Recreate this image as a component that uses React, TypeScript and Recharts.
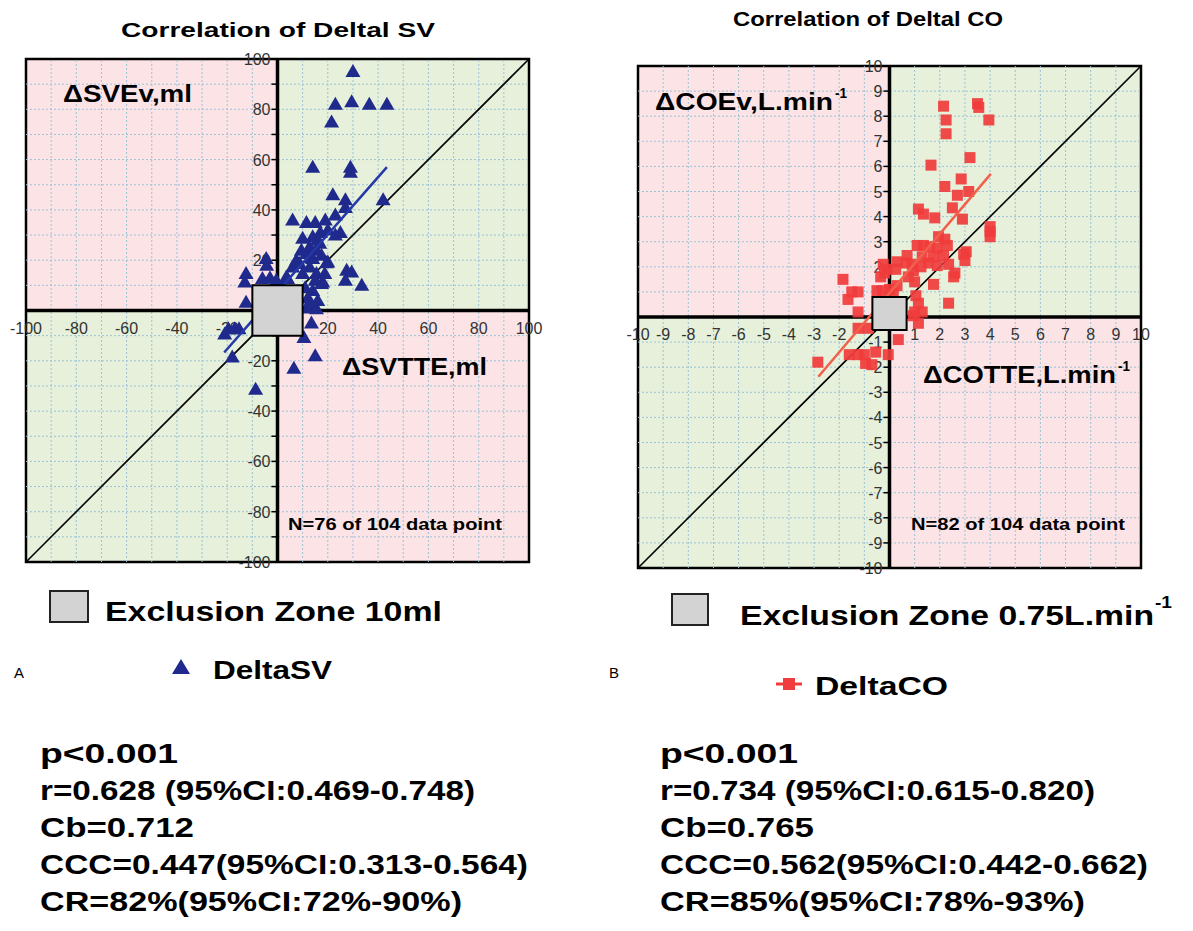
import React from 'react';
import { ScatterChart, Scatter, XAxis, YAxis, ReferenceArea, ReferenceLine } from 'recharts';

// panel A: delta SV (ml), TTE on x, Ev on y
const svTTE = [30, 23, 29.5, 36.5, 43.5, 21.5, 14, 29, 29, 22, 27, 42, 27, 23, 6, 11.5, 15, 19, 25, 10,
  14, 12.8, 16.8, 11.5, 15.5, 14, 17.5, 20, 12.8, 15.5, 18.8, 14, 17.5, 13.5, 15.5, 11.5, 6, 8.8, 3.5, -0.5,
  4, -4.5, -4.3, -12.5, -13, -12.5, -6, 10, 11, 15, 18, 27.5, 27, 29.5, 33.5, 13.5, 10.5, 15, 6.5, -8.7,
  -21, -17, -15.3, -18, -19.5, 9.5, 7.5, 19.5, 17, 16, 13, 20, 23, 12, 16, -3];
const svEv = [95, 82, 83, 82, 82, 75, 57, 57, 55, 46, 44, 44, 41, 38, 36, 35, 35, 36, 31, 28.7,
  29.3, 25.3, 26.7, 22.7, 24, 20.7, 22, 19.3, 17.3, 14.7, 14.7, 8, 10.7, 2.7, 0.7, 1, 17.3, 18.7, 13.3, 12,
  12.7, 20.7, 18, 14.7, 11.3, 3.3, 12.7, 14.7, 9, 12, 11.3, 16, 12, 15.3, 10, -5, -10.7, -18, -23, -31.3,
  -9.3, -7.3, -7.3, -18.5, -7.3, 24, 20, 19, 31, 28, 21, 32, 30, 5, 4, 13];
const svGrid = [-100, -90, -80, -70, -60, -50, -40, -30, -20, -10, 0, 10, 20, 30, 40, 50, 60, 70, 80, 90, 100];
const svXLabels = [-100, -80, -60, -40, -20, 20, 40, 60, 80, 100];
const svYLabels = [-100, -80, -60, -40, -20, 20, 40, 60, 80, 100];
const svFitX = [-21.2, 43.5];
const svFitY = [-16.7, 57];
const svZoneX = [-10, 10];
const svZoneY = [-10, 10];

// panel B: delta CO (L/min)
const coTTE = [2.15, 2.25, 2.25, 3.5, 3.55, 3.95, 3.2, 1.65, 2.85, 2.2, 2.7, 3.15, 1.15, 1.35, 1.8, 2.5, 2.9, 4.0, 4.0, 4.0,
  1.95, 2.2, 3.05, 1.1, 1.35, 1.6, 1.9, 2.3, 1.3, 1.75, 2.15, 2.95, 3.0, 1.55, 1.9, 2.35, 2.6, 2.55, 0.7, 0.65,
  0.3, 0.25, 0.95, 0.9, 1.25, 0.75, -0.25, -0.1, -0.2, -0.35, -1.85, -1.5, -1.25, -1.65, -0.5, -0.25, 0.0, 0.3, 0.15, 1.0,
  1.75, 2.35, -1.25, 1.15, 1.0, 1.3, 0.95, 1.15, -1.25, -0.85, 0.35, -1.6, -1.25, -1.0, -0.55, -0.05, -0.95, -0.7, -2.85, 1.05];
const coEv = [8.4, 7.85, 7.3, 8.5, 8.35, 7.85, 6.35, 6.05, 5.5, 5.2, 4.85, 5.0, 4.3, 4.1, 3.95, 4.35, 3.9, 3.6, 3.4, 3.2,
  3.2, 3.1, 2.6, 2.85, 2.85, 2.8, 2.75, 2.85, 2.4, 2.4, 2.45, 2.5, 2.25, 2.15, 2.05, 2.1, 1.75, 1.6, 2.45, 2.15,
  2.2, 1.9, 1.85, 2.1, 2.0, 1.6, 2.1, 1.9, 1.75, 1.6, 1.5, 1.0, 1.0, 0.7, 1.05, 1.05, 1.1, 1.25, 0.95, 1.4,
  1.3, 0.55, 0.2, 0.55, 0.2, 0.2, 0.05, -0.25, -0.45, -0.45, -0.9, -1.5, -1.5, -1.5, -1.4, -1.5, -1.85, -1.9, -1.8, 0.85];
const coGrid = [-10, -9, -8, -7, -6, -5, -4, -3, -2, -1, 0, 1, 2, 3, 4, 5, 6, 7, 8, 9, 10];
// x "-1" sits under the exclusion box in the figure
const coXLabels = [-10, -9, -8, -7, -6, -5, -4, -3, -2, 1, 2, 3, 4, 5, 6, 7, 8, 9, 10];
const coYLabels = [-10, -9, -8, -7, -6, -5, -4, -3, -2, -1, 1, 2, 3, 4, 5, 6, 7, 8, 9, 10];
const coFitX = [-2.83, 4.03];
const coFitY = [-2.38, 5.7];
const coZoneX = [-0.68, 0.68];
const coZoneY = [-0.52, 0.8];

const statsA = ['p<0.001', 'r=0.628 (95%CI:0.469-0.748)', 'Cb=0.712', 'CCC=0.447(95%CI:0.313-0.564)', 'CR=82%(95%CI:72%-90%)'];
const statsB = ['p<0.001', 'r=0.734 (95%CI:0.615-0.820)', 'Cb=0.765', 'CCC=0.562(95%CI:0.442-0.662)', 'CR=85%(95%CI:78%-93%)'];
const statWidthsA = [138, 435, 154, 488, 422];
const statWidthsB = [138, 435, 154, 488, 425];

const FONT = '"Liberation Sans", Arial, Helvetica, sans-serif';
const PINK = '#fce4e6';
const GREEN = '#e6f0da';
const GRID = '#9cc3d6';
const NAVY = '#1f2a8c';
const RED = '#f03c3c';

const svData = svTTE.map((x, i) => ({ x, y: svEv[i] }));
const coData = coTTE.map((x, i) => ({ x, y: coEv[i] }));

const triangle = (p: any) => (
  <polygon points={`${p.cx},${p.cy - 7.5} ${p.cx - 7.5},${p.cy + 5.5} ${p.cx + 7.5},${p.cy + 5.5}`} fill={NAVY} />
);
const square = (p: any) => (
  <rect x={p.cx - 5.5} y={p.cy - 5.5} width={11} height={11} fill={RED} fillOpacity={0.92} />
);
const nothing = () => <g />;

function QuadrantChart({ data, lim, grid, xLabels, yLabels, fitX, fitY, zoneX, zoneY, width, height, margin, marker, fitColor }: any) {
  const inner = grid.filter((v: number) => Math.abs(v) < lim && v !== 0);
  const xTicks = xLabels.map((v: number) => ({ x: v, y: 0 }));
  const yTicks = grid.map((v: number) => ({ x: 0, y: v }));
  const fit = [{ x: fitX[0], y: fitY[0] }, { x: fitX[1], y: fitY[1] }];
  const zone = [
    { x: zoneX[0], y: zoneY[0] }, { x: zoneX[1], y: zoneY[0] }, { x: zoneX[1], y: zoneY[1] },
    { x: zoneX[0], y: zoneY[1] }, { x: zoneX[0], y: zoneY[0] },
  ];

  const xLabel = (p: any) => (
    <text x={p.cx} y={p.cy + 23} textAnchor="middle" fontSize={16} fontFamily={FONT} fill="#333">{p.payload.x}</text>
  );
  const yLabel = (p: any) => (
    <g>
      <line x1={p.cx - 6} x2={p.cx} y1={p.cy} y2={p.cy} stroke="#000" strokeWidth={1.5} />
      {yLabels.includes(p.payload.y) && (
        <text x={p.cx - 7} y={p.cy + 6} textAnchor="end" fontSize={16} fontFamily={FONT} fill="#333">{p.payload.y}</text>
      )}
    </g>
  );

  return (
    <ScatterChart width={width} height={height} margin={margin}>
      <XAxis type="number" dataKey="x" domain={[-lim, lim]} hide />
      <YAxis type="number" dataKey="y" domain={[-lim, lim]} hide />
      <ReferenceArea x1={-lim} x2={0} y1={0} y2={lim} fill={PINK} fillOpacity={1} />
      <ReferenceArea x1={0} x2={lim} y1={-lim} y2={0} fill={PINK} fillOpacity={1} />
      <ReferenceArea x1={0} x2={lim} y1={0} y2={lim} fill={GREEN} fillOpacity={1} />
      <ReferenceArea x1={-lim} x2={0} y1={-lim} y2={0} fill={GREEN} fillOpacity={1} />
      {inner.map((v: number) => (
        <ReferenceLine key={'gx' + v} x={v} stroke={GRID} strokeDasharray="2 2" />
      ))}
      {inner.map((v: number) => (
        <ReferenceLine key={'gy' + v} y={v} stroke={GRID} strokeDasharray="2 2" />
      ))}
      <ReferenceLine segment={[{ x: -lim, y: -lim }, { x: lim, y: lim }]} stroke="#000" strokeWidth={1.6} />
      <ReferenceLine x={0} stroke="#000" strokeWidth={3.5} />
      <ReferenceLine y={0} stroke="#000" strokeWidth={3.5} />
      <ReferenceArea x1={-lim} x2={lim} y1={-lim} y2={lim} fill="none" stroke="#000" strokeWidth={2.5} />
      <Scatter data={xTicks} shape={xLabel} isAnimationActive={false} />
      <Scatter data={yTicks} shape={yLabel} isAnimationActive={false} />
      <Scatter data={data} shape={marker} isAnimationActive={false} />
      <Scatter data={fit} shape={nothing} line={{ stroke: fitColor, strokeWidth: 2.5 }} isAnimationActive={false} />
      <Scatter data={zone} shape={nothing} line={{ stroke: '#000', strokeWidth: 2, fill: '#d3d3d3' }} isAnimationActive={false} />
    </ScatterChart>
  );
}

const T = ({ x, y, w, size = 22, weight = 700, anchor = 'start', fill = '#000', children }: any) => (
  <text x={x} y={y} fontSize={size} fontWeight={weight} fontFamily={FONT} textAnchor={anchor} fill={fill}
    textLength={w} lengthAdjust="spacingAndGlyphs">{children}</text>
);

export default function App() {
  return (
    <div style={{ position: 'absolute', left: 0, top: 0, width: 1193, height: 931, background: '#fff', fontFamily: FONT }}>
      <div style={{ position: 'absolute', left: 0, top: 0 }}>
        <QuadrantChart data={svData} lim={100} grid={svGrid} xLabels={svXLabels} yLabels={svYLabels} fitX={svFitX} fitY={svFitY}
          zoneX={svZoneX} zoneY={svZoneY} width={560} height={600}
          margin={{ top: 59, left: 26, right: 31, bottom: 38 }} marker={triangle} fitColor="#2438a8" />
      </div>
      <div style={{ position: 'absolute', left: 600, top: 0 }}>
        <QuadrantChart data={coData} lim={10} grid={coGrid} xLabels={coXLabels} yLabels={coYLabels} fitX={coFitX} fitY={coFitY}
          zoneX={coZoneX} zoneY={coZoneY} width={593} height={600}
          margin={{ top: 66, left: 38, right: 52, bottom: 32 }} marker={square} fitColor="#f2604c" />
      </div>
      <svg width={1193} height={931} style={{ position: 'absolute', left: 0, top: 0, pointerEvents: 'none' }}>
        <T x={278} y={37} w={314} size={20} anchor="middle">Correlation of Deltal SV</T>
        <T x={868} y={26} w={270} size={20} anchor="middle">Correlation of Deltal CO</T>

        <T x={63} y={102} w={129} size={23}>ΔSVEv,ml</T>
        <T x={342} y={375} w={145} size={23}>ΔSVTTE,ml</T>
        <T x={288} y={530} w={214} size={17}>N=76 of 104 data point</T>

        <T x={655} y={110} w={178} size={23}>ΔCOEv,L.min</T>
        <T x={835} y={98} w={12} size={14}>-1</T>
        <T x={923} y={383} w={193} size={23}>ΔCOTTE,L.min</T>
        <T x={1118} y={371} w={12} size={14}>-1</T>
        <T x={911} y={530} w={214} size={17}>N=82 of 104 data point</T>

        <rect x={50} y={591} width={38} height={31} fill="#d3d3d3" stroke="#222" strokeWidth={2} />
        <T x={105} y={621} w={337} size={28}>Exclusion Zone 10ml</T>
        <rect x={672} y={594} width={36} height={31} fill="#d3d3d3" stroke="#222" strokeWidth={2} />
        <T x={740} y={625} w={414} size={28}>Exclusion Zone 0.75L.min</T>
        <T x={1155} y={608} w={17} size={17}>-1</T>

        <T x={14} y={678} size={15} weight={400}>A</T>
        <T x={609} y={678} size={15} weight={400}>B</T>

        <polygon points="181,659 172,674 190,674" fill={NAVY} />
        <T x={213} y={679} w={119} size={26}>DeltaSV</T>
        <line x1={776} y1={684} x2={802} y2={684} stroke={RED} strokeWidth={3} />
        <rect x={783} y={678} width={12} height={12} fill={RED} />
        <T x={815} y={695} w={133} size={26}>DeltaCO</T>

        {statsA.map((s, i) => (
          <T key={'a' + i} x={40} y={763 + i * 37} w={statWidthsA[i]} size={27}>{s}</T>
        ))}
        {statsB.map((s, i) => (
          <T key={'b' + i} x={660} y={763 + i * 37} w={statWidthsB[i]} size={27}>{s}</T>
        ))}
      </svg>
    </div>
  );
}
